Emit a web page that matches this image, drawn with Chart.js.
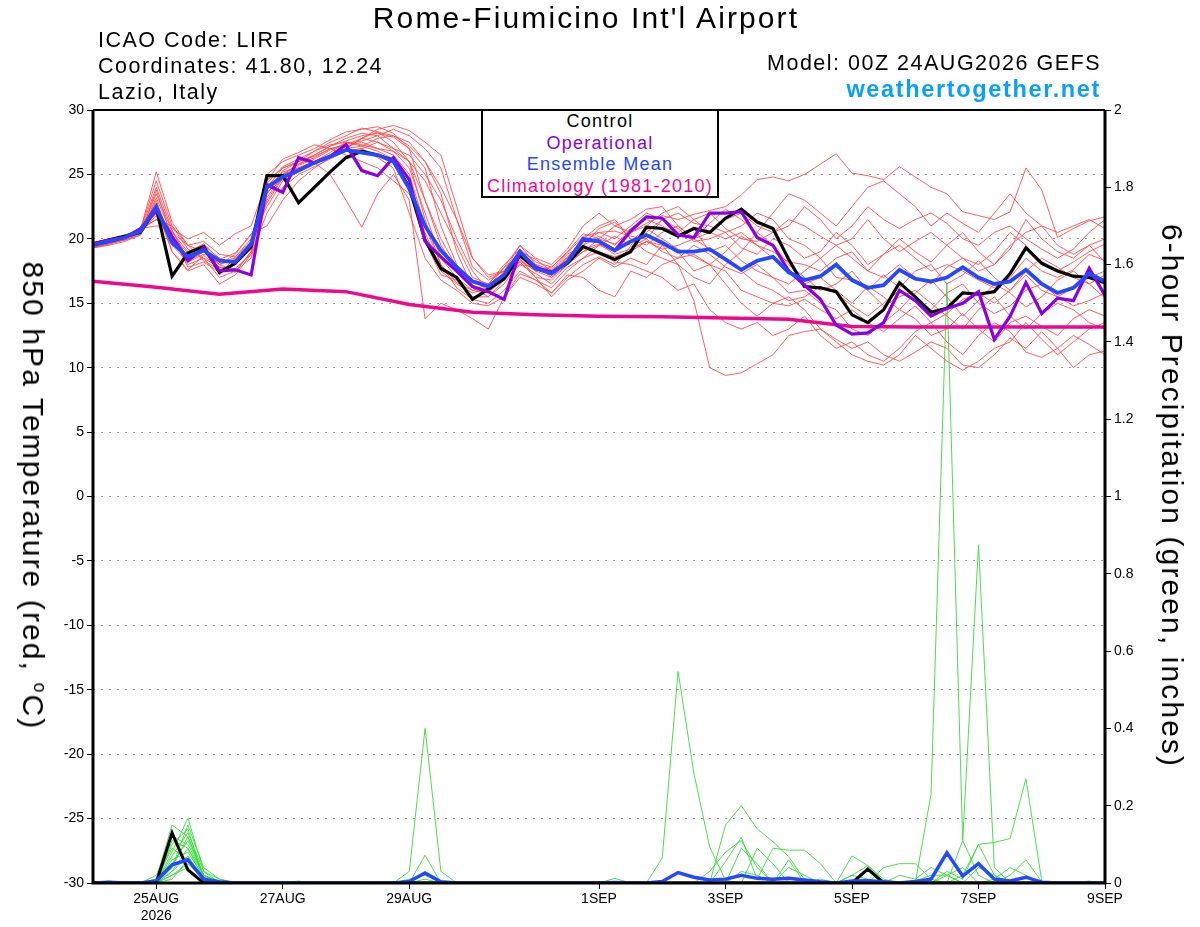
<!DOCTYPE html>
<html>
<head>
<meta charset="utf-8">
<script src="https://cdn.jsdelivr.net/npm/chart.js@4.4.1/dist/chart.umd.min.js"></script>
<style>
  body { margin: 0; background: #fff; }
  #wrap { position: relative; width: 1200px; height: 927px; font-family: "Liberation Sans", Arial, sans-serif; color: #000; }
  #wrap canvas { position: absolute; left: 0; top: 0; }
  .t { position: absolute; white-space: nowrap; letter-spacing: 0.07em; }
  .info { left: 98px; font-size: 21.5px; line-height: 22px; }
  .right { right: 99px; text-align: right; }
  #title { left: 0; width: 1172px; text-align: center; top: 3px; font-size: 30px; line-height: 30px; }
  #site { top: 77px; font-size: 23.5px; line-height: 24px; font-weight: bold; color: #0aa0fa; }
  #legendBox { position: absolute; left: 481px; top: 109px; width: 234px; height: 85px; border: 2px solid #000; background: #fff;
    text-align: center; font-size: 18px; line-height: 21.7px; letter-spacing: 0.07em; }
  .axisTitle { position: absolute; top: 496px; font-size: 30px; letter-spacing: 0.07em; white-space: nowrap;
    transform: translate(-50%, -50%) rotate(90deg); }
  .deg { font-size: 60%; vertical-align: super; }
</style>
</head>
<body>
<div id="wrap">
  <canvas id="chart" width="1200" height="927"></canvas>
  <div class="t" id="title">Rome-Fiumicino Int'l Airport</div>
  <div class="t info" style="top:29px">ICAO Code: LIRF</div>
  <div class="t info" style="top:55px">Coordinates: 41.80, 12.24</div>
  <div class="t info" style="top:81px">Lazio, Italy</div>
  <div class="t info right" style="top:52px;left:auto">Model: 00Z 24AUG2026 GEFS</div>
  <div class="t right" id="site">weathertogether.net</div>
  <div id="legendBox">
    <div style="color:#000">Control</div>
    <div style="color:#8a00e6">Operational</div>
    <div style="color:#2448ff">Ensemble Mean</div>
    <div style="color:#f0088c">Climatology (1981-2010)</div>
  </div>
  <div class="axisTitle" style="left:33px">850 hPa Temperature (red, <span class="deg">o</span>C)</div>
  <div class="axisTitle" style="left:1172px">6-hour Precipitation (green, inches)</div>
</div>
<script>
// forecast hours from 00Z 24AUG2026, every 6 h
const hours = [0,6,12,18,24,30,36,42,48,54,60,66,72,78,84,90,96,102,108,114,120,126,132,138,144,150,156,162,168,174,180,186,192,
  198,204,210,216,222,228,234,240,246,252,258,264,270,276,282,288,294,300,306,312,318,324,330,336,342,348,354,360,366,372,378,384];
const climHours = [0,24,48,72,96,120,144,168,192,216,240,264,288,312,336,360,384];

const xTickHours = [24, 72, 120, 192, 240, 288, 336, 384];
const xTickLabels = [["25AUG", "2026"], "27AUG", "29AUG", "1SEP", "3SEP", "5SEP", "7SEP", "9SEP"];

// 850 hPa temperature (C)
const control = [19.6,19.9,20.2,20.5,22.4,17.1,18.9,19.4,17.4,18.1,19.4,
  24.9,24.9,22.8,24.0,25.2,26.3,26.8,26.5,26.1,24.0,
  19.9,17.7,17.0,15.3,16.1,16.9,18.7,17.7,17.4,18.1,
  19.4,18.9,18.4,19.0,20.9,20.8,20.2,20.8,20.5,21.6,
  22.3,21.3,20.8,18.4,16.3,16.2,15.9,14.1,13.5,14.5,
  16.6,15.5,14.3,14.6,15.8,15.7,15.9,17.3,19.3,18.1,
  17.5,17.1,17.0,16.6];
const operational = [19.6,19.9,20.1,20.8,22.2,20.2,18.3,19.3,17.5,17.6,17.2,
  24.2,23.6,26.3,25.9,26.4,27.3,25.3,24.9,26.3,24.6,
  19.8,18.6,17.5,16.3,15.9,15.3,19.0,17.8,17.4,18.2,
  19.9,19.8,19.1,20.6,21.7,21.6,20.3,20.1,22.0,22.0,
  22.1,20.1,19.5,17.5,16.4,15.3,13.3,12.6,12.7,13.5,
  16.0,15.2,14.0,14.6,15.0,15.9,12.2,14.0,16.6,14.2,
  15.4,15.2,17.7,15.6];
const ensMean = [19.5,19.8,20.1,20.6,22.5,19.7,18.6,19.1,18.3,18.2,19.6,
  24.0,24.8,25.3,25.9,26.4,26.9,26.7,26.5,26.0,23.9,
  21.0,19.1,17.8,16.7,16.3,17.2,19.0,17.7,17.3,18.2,
  20.0,19.8,19.1,19.8,20.3,19.7,19.0,19.0,19.2,18.4,
  17.6,18.3,18.6,17.4,16.8,17.1,18.0,16.8,16.2,16.4,
  17.6,16.9,16.7,17.0,17.8,17.0,16.5,16.7,17.6,16.5,
  15.8,16.2,17.3,16.7];
const climatology = [16.7,16.25,15.7,16.1,15.9,14.9,14.3,14.1,14.0,13.95,13.85,13.75,13.2,13.15,13.15,13.15,13.15];

const m01 = [19.4,19.7,20.0,20.5,21.8,20.2,18.9,19.3,18.0,18.4,19.8, 23.5,25.0,25.8,26.5,27.2,27.6,28.0,28.2,27.9,27.0,
  23.0,19.5,17.6,16.3,15.9,16.8,18.3,17.5,17.8,19.0, 20.4,20.0,19.6,20.5,21.2,21.8,21.5,21.9,22.2,22.5,
  23.4,24.6,24.8,24.5,25.0,25.8,26.6,25.1,24.9,24.6, 25.6,24.8,24.0,23.5,22.1,21.8,21.5,22.1,25.5,23.8, 20.1,20.8,21.4,21.7];
const m02 = [19.3,19.6,19.9,20.4,23.0,19.5,18.2,18.8,18.5,18.0,19.2, 24.5,25.5,26.0,26.4,27.0,27.2,27.5,27.0,26.5,25.0,
  21.0,18.0,16.6,16.0,16.5,17.2,18.8,17.9,17.4,18.5, 19.3,19.0,18.6,19.0,19.8,19.5,18.0,15.2,10.0,9.4,
  9.6,10.3,11.0,12.5,12.8,13.0,12.2,11.5,12.0,11.0, 10.5,11.2,12.0,11.5,10.2,10.0,11.0,12.3,11.5,12.8, 11.5,10.0,11.0,11.3];
const m03 = [19.5,19.8,20.1,20.6,22.0,20.5,19.5,19.8,18.8,18.6,20.0, 22.5,24.5,25.2,25.9,25.0,23.0,20.9,23.5,25.0,23.0,
  13.8,15.0,14.5,13.8,13.0,15.5,17.3,16.8,15.8,17.0, 18.0,18.6,18.0,19.4,20.0,19.0,18.5,18.8,18.0,17.5,
  16.0,15.5,15.0,14.8,15.3,14.5,13.8,14.5,13.5,12.8, 13.8,14.8,13.5,14.2,15.3,15.8,15.0,16.0,17.2,16.0, 15.5,16.2,17.0,17.5];
const m04 = [19.6,19.9,20.2,20.8,21.5,21.0,19.5,19.0,18.0,18.8,20.4, 21.0,23.0,24.5,25.5,26.3,27.0,27.8,28.5,28.8,28.4,
  27.5,26.5,22.5,18.5,17.0,17.5,19.5,18.0,17.0,18.0, 19.0,20.0,21.0,20.5,21.0,22.0,22.5,21.5,20.5,20.0,
  20.5,19.5,19.0,18.2,18.0,17.5,18.5,19.0,17.5,17.0, 18.0,17.0,16.5,17.8,18.5,17.5,18.0,19.5,20.5,21.0, 19.5,18.8,19.5,20.0];
const m05 = [19.5,19.8,20.0,20.7,25.2,21.3,19.5,18.3,17.6,18.0,19.2, 24.0,25.5,26.0,26.8,27.5,28.0,28.6,28.3,27.5,26.0,
  24.5,22.0,19.5,17.0,16.5,17.8,18.6,18.0,17.6,18.8, 19.5,20.2,19.5,20.8,21.5,21.0,20.3,20.8,19.0,19.5,
  18.3,17.5,17.0,16.5,17.5,18.5,17.0,16.8,16.0,17.2, 16.2,17.5,18.0,16.5,17.2,18.3,17.0,16.0,17.5,18.5, 17.8,17.0,16.5,17.2];
const m06 = [19.3,19.5,19.8,20.3,23.8,20.0,18.0,18.5,17.0,17.5,18.5, 23.0,24.8,25.5,26.0,26.7,27.5,27.2,27.8,28.0,27.5,
  26.0,23.5,19.0,16.2,15.5,16.5,18.2,17.0,15.5,16.8, 17.5,18.5,17.8,18.5,18.0,19.5,19.0,17.5,18.0,19.0,
  20.2,19.5,18.5,17.6,16.5,17.0,16.0,15.0,16.3,15.5, 14.5,15.8,16.8,15.5,14.0,15.2,16.5,15.8,14.7,15.5, 16.8,17.5,16.5,15.4];
const m07 = [19.6,19.9,20.1,20.5,22.5,20.0,18.2,19.0,18.0,17.5,19.0, 25.0,26.0,26.5,27.0,27.7,28.3,28.5,28.7,28.2,27.0,
  25.5,21.0,18.0,16.8,16.0,17.5,19.0,17.8,17.2,18.5, 20.0,21.0,21.5,20.0,19.5,20.5,21.0,20.0,20.5,21.5,
  22.0,21.0,20.5,21.0,22.5,21.5,20.0,21.0,22.5,21.5, 20.8,21.5,22.0,21.2,20.0,19.5,20.5,21.0,20.0,19.2, 18.5,19.2,20.5,21.5];
const m08 = [19.4,19.6,20.0,20.6,22.8,19.0,17.5,18.0,16.5,17.2,18.8, 23.8,25.2,25.5,25.8,26.3,26.8,27.0,26.3,25.5,22.0,
  18.5,16.8,16.0,15.0,14.8,15.5,17.0,16.5,15.8,17.2, 17.0,16.0,15.5,17.5,17.0,18.0,18.5,19.5,18.8,17.8,
  17.3,18.0,17.0,15.8,16.0,15.0,14.5,13.0,12.5,13.5, 14.5,13.8,12.5,13.0,14.2,13.0,12.0,13.5,14.0,13.2, 12.5,13.8,14.5,14.0];
const m09 = [19.5,19.7,20.2,20.8,21.0,20.8,20.0,20.5,19.5,20.4,21.0, 24.5,26.2,26.7,27.3,27.0,26.5,26.0,25.5,24.5,23.5,
  20.5,17.5,16.5,15.8,16.2,17.8,19.5,18.5,18.0,19.2, 21.0,22.0,21.0,21.5,22.3,22.5,21.0,20.0,21.2,22.3,
  21.5,20.5,22.0,23.5,23.0,22.0,21.0,22.5,24.0,24.5, 23.5,22.5,21.0,22.0,21.2,20.5,22.0,23.5,22.0,21.0, 20.5,21.0,21.5,20.8];
const m10 = [19.7,20.0,20.3,20.7,24.5,21.0,19.2,18.5,17.8,17.7,18.8, 22.0,24.0,25.0,25.6,26.2,26.8,27.0,27.5,27.0,26.5,
  25.0,23.0,20.0,17.5,16.0,16.8,18.0,17.3,16.5,17.8, 18.5,19.5,20.2,19.5,20.5,21.5,20.8,19.8,20.0,20.5,
  19.3,18.8,20.0,19.5,18.5,19.0,20.5,19.5,18.0,18.8, 20.0,19.0,18.2,19.5,20.5,19.0,18.0,19.2,21.5,20.0, 19.0,18.5,19.5,18.2];
const m11 = [19.4,19.8,20.1,20.4,23.2,20.3,17.8,18.2,17.4,18.2,19.4, 23.2,25.0,25.8,26.3,27.0,27.3,27.8,27.5,26.8,25.5,
  22.0,18.5,17.0,16.0,15.8,17.0,18.4,17.5,17.0,18.2, 19.0,19.5,19.0,19.8,20.8,20.0,19.2,18.6,18.0,16.5,
  15.0,14.0,15.0,15.5,14.5,13.0,12.0,11.0,10.5,10.2, 11.0,12.5,11.5,10.5,9.8,10.5,11.5,12.0,13.5,12.2, 11.0,12.0,13.0,13.5];
const m12 = [19.5,19.8,20.0,20.5,22.0,19.5,18.8,19.5,18.5,18.0,19.5, 24.0,25.0,25.5,26.0,26.5,27.0,27.8,28.3,28.0,27.2,
  26.0,24.0,21.5,18.5,17.2,17.5,18.5,17.0,16.8,18.0, 19.5,20.8,21.3,20.0,19.0,18.5,18.0,17.0,16.5,18.0,
  19.0,20.5,19.5,18.0,17.0,16.0,16.5,17.5,16.0,14.8, 15.5,16.0,15.0,14.0,13.0,14.5,15.5,14.0,13.0,14.2, 15.0,14.5,13.5,13.0];
const m13 = [19.6,19.8,20.1,20.5,23.5,20.6,18.5,19.2,18.2,18.5,19.7, 23.5,25.3,26.0,26.5,27.2,27.8,28.2,28.0,27.0,26.0,
  23.0,20.0,17.8,16.8,16.5,18.0,19.2,18.2,17.8,18.9, 20.2,20.5,20.0,21.0,22.0,21.5,20.5,21.5,22.0,20.8,
  20.0,19.8,20.5,21.5,21.0,20.2,19.5,20.0,21.5,20.0, 19.0,19.8,20.5,19.5,18.5,18.0,19.0,20.5,19.5,18.0, 17.5,18.2,19.0,19.6];
const m14 = [19.3,19.6,19.9,20.3,22.3,19.0,17.6,18.7,17.8,17.4,19.0, 24.3,25.6,26.2,26.8,27.3,27.5,27.3,27.0,26.8,26.0,
  21.5,18.0,16.2,15.3,15.0,16.0,17.5,16.8,16.2,17.5, 18.5,19.0,18.2,18.0,17.5,17.0,16.0,16.5,14.5,13.5,
  13.0,13.5,12.5,13.0,14.0,12.5,11.5,12.0,11.0,10.5, 11.5,12.8,13.5,12.0,11.0,12.5,13.5,12.8,11.2,10.8, 11.5,12.5,11.8,11.0];
const m15 = [19.5,19.9,20.2,20.7,21.5,20.5,19.0,19.6,18.4,18.9,20.3, 22.8,24.7,25.7,26.2,26.9,27.4,27.6,28.0,28.5,28.0,
  27.0,25.5,21.5,17.8,16.8,17.5,19.0,18.4,17.5,18.6, 19.8,20.5,20.6,20.2,20.0,21.5,22.0,21.2,21.0,20.5,
  21.0,22.0,21.5,20.0,19.5,18.5,19.5,18.5,17.5,18.8, 19.5,18.5,17.5,18.0,17.5,16.8,16.2,17.0,18.5,17.5, 17.0,17.6,18.8,18.3];
const m16 = [19.4,19.7,20.0,20.6,24.0,20.7,18.4,19.5,17.2,18.6,19.8, 23.6,24.6,25.3,25.9,26.4,27.0,27.2,26.8,26.2,24.5,
  19.8,17.2,16.8,15.5,15.5,16.8,18.0,17.8,17.5,18.3, 19.2,19.6,18.8,19.2,19.8,19.2,19.5,20.0,19.2,18.5,
  17.5,16.5,16.0,15.2,15.5,16.3,15.8,14.8,14.0,15.0, 16.0,15.2,14.5,15.8,16.5,15.0,14.2,14.8,16.0,16.5, 15.5,14.8,15.2,15.8];
const tempMembers = [m01,m02,m03,m04,m05,m06,m07,m08,m09,m10,m11,m12,m13,m14,m15,m16];

// 6-hour precipitation (inches)
const precipControl = [0,0,0,0,0,0.13,0.034,0,0,0,0, 0,0,0,0,0,0,0,0,0,0, 0,0,0,0,0,0,0,0,0,0, 0,0,0,0,0,0,0,0,0,0,
  0,0,0,0,0,0,0,0,0.036,0, 0,0,0,0,0,0,0,0,0,0, 0,0,0,0];
const precipMean = [0,0.002,0,0,0.005,0.047,0.06,0.01,0.003,0,0, 0,0,0,0,0,0,0,0,0,0.004, 0.026,0.003,0,0,0,0,0,0,0,0,
  0,0,0.001,0,0,0.004,0.027,0.015,0.008,0.01, 0.02,0.012,0.01,0.012,0.008,0.003,0,0.005,0.006,0.003,
  0,0.004,0.01,0.078,0.018,0.05,0.01,0.005,0.015,0.002, 0,0,0,0];
const p01 = [0,0,0,0,0.01,0.15,0.12,0.02,0,0,0, 0,0,0,0,0,0,0,0,0,0, 0,0,0,0,0,0,0,0,0,0,
  0,0,0,0,0,0.065,0.547,0.284,0.093,0.007, 0,0,0,0,0,0,0,0,0,0, 0,0,0,0,0,0,0,0,0,0, 0,0,0,0];
const p02 = [0,0,0,0,0,0.08,0.168,0.03,0.01,0,0, 0,0,0,0,0,0,0,0,0,0.03, 0.40,0.03,0,0,0,0,0,0,0,0,
  0,0,0,0,0,0,0,0,0,0, 0,0,0,0,0,0,0,0,0,0, 0,0,0.23,1.55,0.11,0.02,0,0,0,0, 0,0,0,0];
const p03 = [0,0,0,0,0.02,0.12,0.10,0.02,0,0,0, 0,0,0,0,0,0,0,0,0,0, 0,0,0,0,0,0,0,0,0,0,
  0,0,0,0,0,0,0,0,0,0.15, 0.20,0.14,0.107,0.068,0.008,0,0,0,0,0, 0,0,0,0,0,0,0,0,0,0, 0,0,0,0];
const p04 = [0,0,0,0,0,0.10,0.14,0.01,0,0,0, 0,0,0,0,0,0,0,0,0,0, 0.072,0,0,0,0,0,0,0,0,0,
  0,0,0,0,0,0,0,0,0,0.055, 0.118,0.01,0.09,0.085,0.085,0.05,0,0,0,0, 0,0,0,0,0,0,0,0,0,0, 0,0,0,0];
const p05 = [0,0.005,0,0,0,0.06,0.08,0.015,0,0,0, 0,0,0,0,0,0,0,0,0,0, 0,0,0,0,0,0,0,0,0,0,
  0,0,0,0,0,0,0,0,0,0, 0,0,0,0,0,0,0,0,0,0, 0,0,0,0,0.11,0.875,0.04,0,0,0, 0,0,0,0];
const p06 = [0,0,0,0,0,0.04,0.12,0.02,0,0,0, 0,0,0,0,0,0,0,0,0,0, 0,0,0,0,0,0,0,0,0,0,
  0,0,0,0,0,0,0,0,0,0, 0.09,0.05,0,0.06,0,0,0,0.07,0.045,0.01, 0,0,0,0,0,0,0,0,0,0, 0,0,0,0];
const p07 = [0,0,0,0,0,0.03,0.07,0.01,0,0,0, 0,0,0,0,0,0,0,0,0,0, 0,0,0,0,0,0,0,0,0,0,
  0,0,0,0,0,0,0,0,0,0, 0,0,0,0,0,0,0,0,0,0, 0,0,0,0,0.02,0.10,0.105,0.115,0.27,0.005, 0,0,0,0];
const p08 = [0,0,0,0,0,0.02,0.05,0.01,0,0,0, 0,0,0.005,0,0,0,0,0,0,0.01, 0.02,0,0,0,0,0,0,0,0,0,
  0,0,0,0,0,0,0,0,0,0, 0,0,0,0,0,0,0,0,0,0.04, 0.05,0.05,0.01,0,0,0,0,0,0,0, 0,0,0,0];
const p09 = [0,0,0,0,0.01,0.09,0.06,0.005,0,0,0, 0,0,0,0,0,0,0,0,0,0, 0,0,0,0,0,0,0,0,0,0,
  0,0,0.012,0,0,0,0,0,0,0, 0,0.09,0.05,0,0,0,0,0,0,0, 0,0,0,0,0,0,0,0.02,0.06,0.003, 0,0,0,0];
const p10 = [0,0,0,0,0,0.05,0.11,0.02,0.005,0,0, 0,0,0,0,0,0,0,0,0,0, 0,0,0,0,0,0,0,0,0,0,
  0,0,0,0,0,0,0,0,0.03,0.08, 0.11,0.04,0,0,0,0,0,0,0,0, 0,0,0,0,0,0.04,0.02,0,0,0, 0,0,0,0];
const p11 = [0,0,0,0,0,0.11,0.09,0.01,0,0,0, 0,0,0,0,0,0,0,0,0,0, 0,0,0,0,0,0,0,0,0,0,
  0,0,0,0,0,0,0,0,0,0, 0,0,0,0,0,0,0,0.02,0.045,0.005, 0,0,0,0.03,0.01,0.10,0.02,0,0,0, 0,0,0,0];
const p12 = [0,0,0,0,0,0.07,0.13,0.03,0,0,0, 0,0,0,0,0,0,0,0,0,0, 0,0,0,0,0,0,0,0,0,0,
  0,0,0,0,0,0,0,0,0,0, 0,0,0,0.04,0.02,0,0,0,0,0, 0,0.005,0.02,0.02,0,0,0,0,0,0, 0,0,0,0];
const p13 = [0,0,0,0,0.005,0.04,0.15,0.04,0.01,0,0, 0,0,0,0,0,0,0,0,0,0, 0.01,0,0,0,0,0,0,0,0,0,
  0,0,0,0,0,0,0,0,0,0, 0,0,0,0,0,0,0,0,0,0, 0,0,0,0,0,0,0,0,0,0, 0,0,0.005,0];
const p14 = [0,0,0,0,0,0.03,0.09,0.02,0,0,0, 0,0,0,0,0,0,0,0,0,0, 0,0,0,0,0,0,0,0,0,0,
  0,0,0,0,0,0,0,0,0,0, 0,0,0,0,0,0.01,0,0.02,0.01,0, 0,0,0,0,0,0,0.01,0.04,0.02,0, 0,0,0,0];
const p15 = [0,0,0,0,0,0.02,0.04,0,0,0,0, 0,0,0,0,0,0,0,0,0,0, 0,0,0,0,0,0,0,0,0,0,
  0,0,0,0,0,0,0,0,0,0, 0.03,0.02,0,0,0,0,0,0,0,0, 0,0,0,0.02,0.04,0,0,0,0,0, 0,0,0,0];
const p16 = [0,0,0,0,0,0.01,0.06,0.01,0,0,0, 0,0,0,0,0,0,0,0,0,0.005, 0,0,0,0,0,0,0,0,0,0,
  0,0,0,0,0,0,0,0,0,0, 0,0,0,0,0,0,0,0,0,0, 0.02,0.01,0.04,0.02,0,0,0,0,0,0, 0,0,0,0];
const precipMembers = [p01,p02,p03,p04,p05,p06,p07,p08,p09,p10,p11,p12,p13,p14,p15,p16];

function pts(xs, ys) {
  return ys.map((v, i) => ({ x: xs[i], y: v }));
}

function line(values, color, width, axis, order, xs) {
  return {
    data: pts(xs || hours, values),
    borderColor: color,
    borderWidth: width,
    pointRadius: 0,
    tension: 0,
    fill: false,
    yAxisID: axis,
    order: order
  };
}

const datasets = [];
precipMembers.forEach(p => datasets.push(line(p, "#38d838", 0.9, "y2", 20)));
tempMembers.forEach(m => datasets.push(line(m, "#ff4c4c", 0.9, "y", 15)));
datasets.push(line(precipControl, "#000", 3, "y2", 8));
datasets.push(line(precipMean, "#2448ff", 3.5, "y2", 7));
datasets.push(line(climatology, "#f0088c", 3.5, "y", 6, climHours));
datasets.push(line(control, "#000", 3.2, "y", 5));
datasets.push(line(operational, "#8a00e6", 3.2, "y", 4));
datasets.push(line(ensMean, "#2448ff", 3.8, "y", 3));

// black frame round the plot area
const framePlugin = {
  id: "frame",
  afterDraw(chart) {
    const { ctx, chartArea: a } = chart;
    ctx.save();
    ctx.strokeStyle = "#000";
    ctx.lineWidth = 2;
    ctx.beginPath();
    ctx.moveTo(a.left, a.top);
    ctx.lineTo(a.right, a.top);
    ctx.stroke();
    ctx.lineWidth = 3;
    ctx.beginPath();
    ctx.moveTo(a.left, a.top);
    ctx.lineTo(a.left, a.bottom);
    ctx.lineTo(a.right, a.bottom);
    ctx.lineTo(a.right, a.top);
    ctx.stroke();
    ctx.restore();
  }
};

Chart.defaults.font.family = "'Liberation Sans', Arial, sans-serif";
Chart.defaults.color = "#000";

new Chart(document.getElementById("chart"), {
  type: "line",
  data: { datasets: datasets },
  plugins: [framePlugin],
  options: {
    responsive: false,
    animation: false,
    devicePixelRatio: 1,
    layout: { padding: { top: 110, left: 0, right: 0, bottom: 0 } },
    plugins: { legend: { display: false }, tooltip: { enabled: false } },
    scales: {
      x: {
        type: "linear",
        min: 0,
        max: 384,
        afterBuildTicks: s => { s.ticks = xTickHours.map(v => ({ value: v })); },
        afterFit: s => { s.height = 44; },
        ticks: {
          autoSkip: false,
          maxRotation: 0,
          padding: 2,
          font: { size: 14 },
          callback: v => xTickLabels[xTickHours.indexOf(v)]
        },
        grid: { drawOnChartArea: false, tickLength: 6, color: "#000", lineWidth: 1 },
        border: { display: false }
      },
      y: {
        position: "left",
        min: -30,
        max: 30,
        afterFit: s => { s.width = 93; },
        ticks: { stepSize: 5, font: { size: 14 }, padding: 3 },
        grid: { color: "#9a9a9a", lineWidth: 1, tickColor: "#000", tickLength: 6 },
        border: { display: false, dash: [2, 6] }
      },
      y2: {
        position: "right",
        min: 0,
        max: 2,
        afterFit: s => { s.width = 95; },
        ticks: { stepSize: 0.2, font: { size: 14 }, padding: 3, callback: v => String(Math.round(v * 10) / 10) },
        grid: { drawOnChartArea: false, tickColor: "#000", tickLength: 6 },
        border: { display: false }
      }
    }
  }
});
</script>
</body>
</html>
